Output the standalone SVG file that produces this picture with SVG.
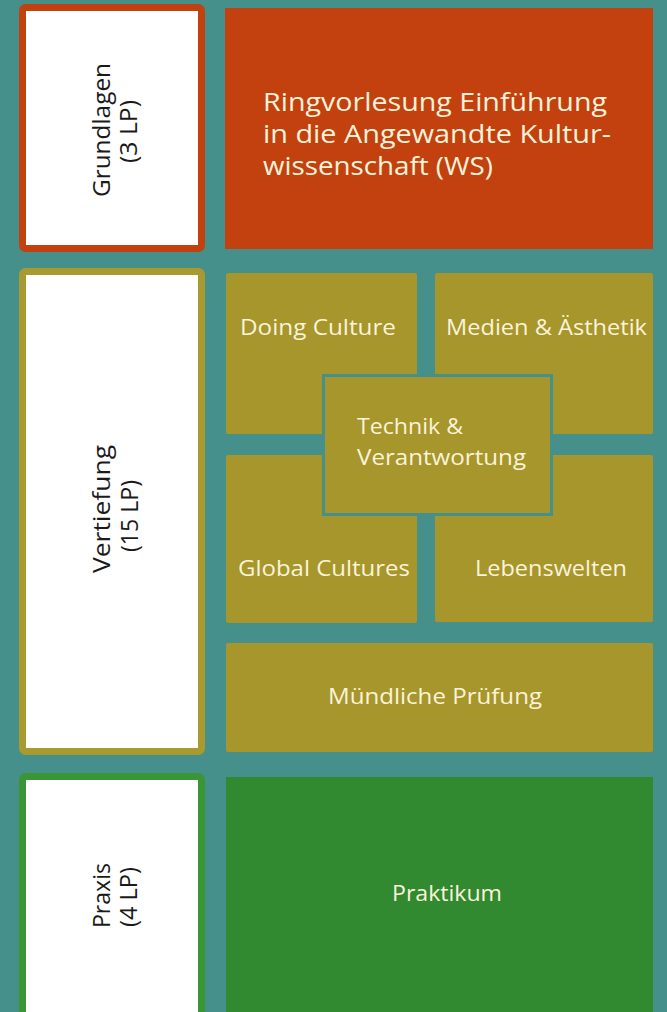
<svg xmlns="http://www.w3.org/2000/svg" width="667" height="1012" viewBox="0 0 667 1012">
<style>
.lbl{font-family:"Open Sans","Liberation Sans",sans-serif;fill:#fbf3da;}
.side{font-family:"Open Sans","Liberation Sans",sans-serif;fill:#1a1a1a;font-size:23px;text-anchor:middle;}
.olive{fill:#a6962c;}
.side-box{fill:#ffffff;stroke-width:7;}
</style>
<rect x="0" y="0" width="667" height="1012" fill="#46908b"/>
<g id="connectors"></g>
<g id="grundlagen">
<rect class="side-box" x="22.5" y="7.5" width="179" height="241" rx="3" stroke="#c2410f"/>
<text class="side" transform="translate(110,130) rotate(-90)" textLength="134" lengthAdjust="spacingAndGlyphs">Grundlagen</text>
<text class="side" transform="translate(137,131.5) rotate(-90)" textLength="63" lengthAdjust="spacingAndGlyphs">(3 LP)</text>
</g>
<g id="ringvorlesung">
<rect x="225" y="8" width="428" height="241" fill="#c2410f"/>
<text class="lbl" font-size="25" x="263" y="111" textLength="344" lengthAdjust="spacingAndGlyphs">Ringvorlesung Einführung</text>
<text class="lbl" font-size="25" x="263" y="143" textLength="348" lengthAdjust="spacingAndGlyphs">in die Angewandte Kultur-</text>
<text class="lbl" font-size="25" x="263" y="175" textLength="230" lengthAdjust="spacingAndGlyphs">wissenschaft (WS)</text>
</g>
<g id="vertiefung">
<rect class="side-box" x="22.5" y="271.5" width="179" height="480" rx="3" stroke="#a89a2f"/>
<text class="side" transform="translate(110,509) rotate(-90)" textLength="128" lengthAdjust="spacingAndGlyphs">Vertiefung</text>
<text class="side" transform="translate(138,516) rotate(-90)" textLength="72" lengthAdjust="spacingAndGlyphs">(15 LP)</text>
</g>
<g id="doing-culture">
<rect class="olive" x="226" y="273" width="191" height="161" rx="2"/>
<text class="lbl" font-size="22" x="240" y="335" textLength="156" lengthAdjust="spacingAndGlyphs">Doing Culture</text>
</g>
<g id="medien">
<rect class="olive" x="435" y="273" width="218" height="161" rx="2"/>
<text class="lbl" font-size="22" x="446" y="335" textLength="201" lengthAdjust="spacingAndGlyphs">Medien &amp; Ästhetik</text>
</g>
<g id="global-cultures">
<rect class="olive" x="226" y="455" width="191" height="168" rx="2"/>
<text class="lbl" font-size="22" x="238" y="576" textLength="172" lengthAdjust="spacingAndGlyphs">Global Cultures</text>
</g>
<g id="lebenswelten">
<rect class="olive" x="435" y="455" width="218" height="167" rx="2"/>
<text class="lbl" font-size="22" x="475" y="576" textLength="152" lengthAdjust="spacingAndGlyphs">Lebenswelten</text>
</g>
<g id="technik">
<rect class="olive" x="323.5" y="375.5" width="228" height="139" stroke="#46908b" stroke-width="3"/>
<text class="lbl" font-size="22" x="357" y="434" textLength="106" lengthAdjust="spacingAndGlyphs">Technik &amp;</text>
<text class="lbl" font-size="22" x="357" y="465" textLength="169" lengthAdjust="spacingAndGlyphs">Verantwortung</text>
</g>
<g id="muendliche-pruefung">
<rect class="olive" x="226" y="643" width="427" height="109" rx="2"/>
<text class="lbl" font-size="22" x="328" y="704" textLength="214" lengthAdjust="spacingAndGlyphs">Mündliche Prüfung</text>
</g>
<g id="praxis">
<rect class="side-box" x="22.5" y="776.5" width="179" height="260" rx="3" stroke="#3a9634"/>
<text class="side" transform="translate(110,895.5) rotate(-90)" textLength="65" lengthAdjust="spacingAndGlyphs">Praxis</text>
<text class="side" transform="translate(137,897) rotate(-90)" textLength="60" lengthAdjust="spacingAndGlyphs">(4 LP)</text>
</g>
<g id="praktikum">
<rect x="226" y="777" width="427" height="240" fill="#318a30"/>
<text class="lbl" font-size="22" x="392" y="901" textLength="110" lengthAdjust="spacingAndGlyphs">Praktikum</text>
</g>
</svg>
